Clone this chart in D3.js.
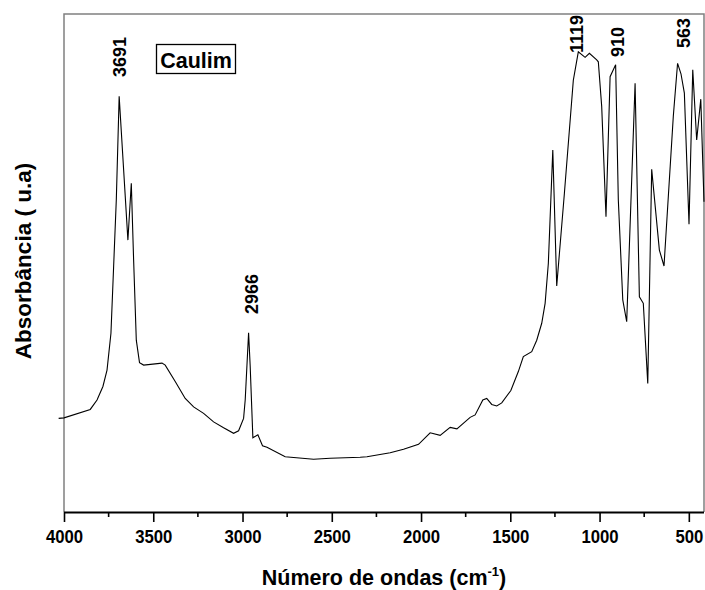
<!DOCTYPE html>
<html>
<head>
<meta charset="utf-8">
<script src="https://cdn.jsdelivr.net/npm/d3@7"></script>
<style>
  html, body { margin: 0; padding: 0; background: #fff; }
  svg { display: block; font-family: "Liberation Sans", Arial, Helvetica, sans-serif; }
</style>
</head>
<body>
<svg id="chart" width="705" height="590"></svg>
<script>
// FTIR spectrum of kaolin (Caulim): wavenumber (cm-1) vs absorbance (arbitrary units)
const wavenumbers = [
  4030, 4000, 3853, 3815, 3782, 3759, 3737, 3722, 3707, 3691, 3642, 3623, 3610, 3595,
  3577, 3554, 3451, 3433, 3377, 3321, 3274, 3218, 3162, 3106, 3050, 3022, 2994, 2985, 2966, 2957,
  2942, 2914, 2888, 2863, 2761, 2602, 2509, 2341, 2303, 2173, 2098, 2014, 1949, 1893,
  1837, 1799, 1725, 1697, 1654, 1632, 1604, 1576, 1548, 1497, 1455, 1427, 1380, 1352,
  1324, 1305, 1287, 1262, 1240, 1197, 1147, 1119, 1081, 1057, 1016, 1007, 988, 964,
  941, 910, 895, 870, 848, 801, 777, 755, 730, 708, 665, 639, 587, 563, 544, 525,
  499, 478, 456, 433, 415
];
const absorbance = [
  0.188, 0.189, 0.206, 0.225, 0.252, 0.285, 0.359, 0.493, 0.627, 0.835, 0.546, 0.660, 0.506, 0.345,
  0.300, 0.295, 0.299, 0.295, 0.262, 0.228, 0.211, 0.198, 0.181, 0.169, 0.158, 0.163, 0.188, 0.225, 0.360, 0.292,
  0.149, 0.155, 0.133, 0.130, 0.111, 0.106, 0.108, 0.110, 0.111, 0.119, 0.126, 0.136, 0.159, 0.154,
  0.170, 0.167, 0.190, 0.195, 0.225, 0.228, 0.216, 0.213, 0.219, 0.244, 0.282, 0.312, 0.322, 0.345,
  0.379, 0.419, 0.499, 0.727, 0.454, 0.640, 0.867, 0.924, 0.913, 0.921, 0.908, 0.904, 0.814, 0.593,
  0.874, 0.898, 0.627, 0.426, 0.382, 0.861, 0.432, 0.419, 0.258, 0.688, 0.526, 0.494, 0.794, 0.901, 0.880, 0.841,
  0.578, 0.888, 0.747, 0.829, 0.623
];

// Annotated band positions (cm-1)
const peakLabels = ["3691", "2966", "1119", "910", "563"];
const peakWavenumbers = [3691, 2966, 1119, 910, 563];

const xTickValues = [4000, 3500, 3000, 2500, 2000, 1500, 1000, 500];
const xMinorTickValues = [3750, 3250, 2750, 2250, 1750, 1250, 750];

const sampleName = "Caulim";
const xTitle = "Número de ondas (cm";
const xTitleSup = "-1";
const yTitle = "Absorbância ( u.a)";

const svg = d3.select("#chart");
const plotLeft = 64, plotRight = 704, plotTop = 14, plotBottom = 512;

const x = d3.scaleLinear().domain([4000, 415]).range([plotLeft, plotRight]);
const y = d3.scaleLinear().domain([0, 1]).range([plotBottom, plotTop]);

// Frame (grey) on left, top and right
svg.append("path")
  .attr("d", `M${plotLeft},${plotBottom} V${plotTop} H${plotRight} V${plotBottom}`)
  .attr("fill", "none")
  .attr("stroke", "#808080")
  .attr("stroke-width", 1.5);

// Spectrum
const pts = wavenumbers.map((w, i) => [w, absorbance[i]]);
const line = d3.line().x(d => x(d[0])).y(d => y(d[1]));
svg.append("path")
  .datum(pts)
  .attr("d", line)
  .attr("fill", "none")
  .attr("stroke", "#000")
  .attr("stroke-width", 1.1)
  .attr("stroke-linejoin", "miter");

// Bottom axis with major and minor ticks
const xAxis = d3.axisBottom(x)
  .tickValues(xTickValues)
  .tickSize(10)
  .tickSizeOuter(0)
  .tickFormat(d3.format("d"));
const gx = svg.append("g")
  .attr("transform", `translate(0,${plotBottom})`)
  .call(xAxis);
gx.select(".domain")
  .attr("d", `M${plotLeft},0.5H${plotRight}`)
  .attr("stroke", "#000")
  .attr("stroke-width", 1.8);
gx.selectAll(".tick line").attr("stroke", "#000").attr("stroke-width", 1.6);
gx.selectAll(".tick text")
  .attr("y", 31)
  .attr("dy", 0)
  .attr("fill", "#000")
  .attr("font-size", 19)
  .attr("font-weight", "bold")
  .attr("font-family", "'Liberation Sans', Arial, sans-serif")
  .attr("transform", "scale(0.88,1)");

svg.append("g")
  .attr("transform", `translate(0,${plotBottom})`)
  .selectAll("line")
  .data(xMinorTickValues)
  .join("line")
  .attr("x1", d => x(d)).attr("x2", d => x(d))
  .attr("y1", 0).attr("y2", 5)
  .attr("stroke", "#000")
  .attr("stroke-width", 1.6);

// Axis titles
const xt = svg.append("text")
  .attr("x", 384)
  .attr("y", 585)
  .attr("text-anchor", "middle")
  .attr("font-size", 21.5)
  .attr("font-weight", "bold")
  .attr("fill", "#000");
xt.append("tspan").text(xTitle);
xt.append("tspan").attr("dy", -9).attr("font-size", 13).text(xTitleSup);
xt.append("tspan").attr("dy", 9).text(")");

svg.append("text")
  .attr("transform", "translate(31,261) rotate(-90)")
  .attr("text-anchor", "middle")
  .attr("font-size", 22.5)
  .attr("font-weight", "bold")
  .attr("fill", "#000")
  .text(yTitle);

// Sample name in a box
svg.append("rect")
  .attr("x", 156.5).attr("y", 44.5)
  .attr("width", 79).attr("height", 29)
  .attr("fill", "#fff")
  .attr("stroke", "#000")
  .attr("stroke-width", 1.3);
svg.append("text")
  .attr("x", 196)
  .attr("y", 68)
  .attr("text-anchor", "middle")
  .attr("font-size", 21.5)
  .attr("font-weight", "bold")
  .attr("fill", "#000")
  .text(sampleName);

// Vertical band labels above the peaks
const labelShift = [0, 3, -1.5, 2, 6];
const labelBase = [77, 314, 53, 57, 48];
svg.append("g")
  .selectAll("text")
  .data(peakLabels)
  .join("text")
  .attr("transform", (d, i) => `translate(${x(peakWavenumbers[i]) + labelShift[i]},${labelBase[i]}) rotate(-90)`)
  .attr("dy", "0.36em")
  .attr("font-size", 18)
  .attr("font-weight", "bold")
  .attr("fill", "#000")
  .text(d => d);
</script>
</body>
</html>
